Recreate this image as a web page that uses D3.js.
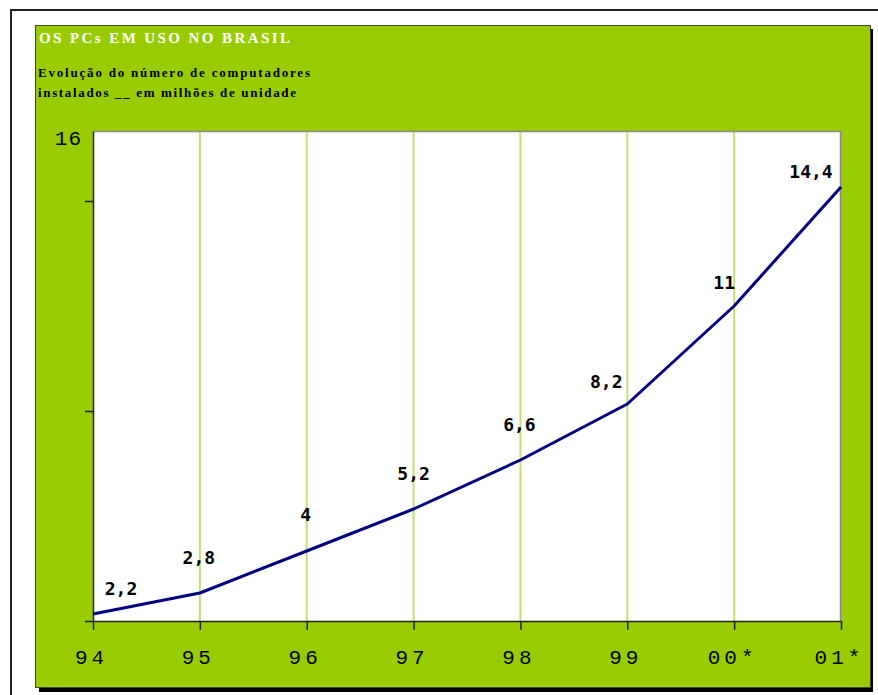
<!DOCTYPE html>
<html>
<head>
<meta charset="utf-8">
<script src="https://cdn.jsdelivr.net/npm/d3@7"></script>
<style>
  html, body { margin: 0; padding: 0; background: #ffffff; }
  svg { display: block; }
</style>
</head>
<body>
<svg id="chart" width="878" height="695"></svg>
<script>
// ---- data ----
const categories = ["94", "95", "96", "97", "98", "99", "00*", "01*"];
const values = [2.2, 2.8, 4, 5.2, 6.6, 8.2, 11, 14.4];
const valueLabels = ["2,2", "2,8", "4", "5,2", "6,6", "8,2", "11", "14,4"];
const yTickValues = [2, 8, 14];
const yTickLabels = ["16"];
const titleText = "OS PCs EM USO NO BRASIL";
const subtitleLines = ["Evolução do número de computadores", "instalados __ em milhões de unidade"];

// ---- layout (not data) ----
const labelOffsets = [[28, -25], [-1, -35], [-1, -36], [0, -35], [-1, -35], [-21, -22], [-10, -23], [-30, -15]];
const plot = { left: 93, right: 841, top: 131, bottom: 621 };
const yDomain = [2, 16];

const svg = d3.select("#chart");

// outer frame
svg.append("rect").attr("x", 11).attr("y", 10).attr("width", 900).attr("height", 720)
  .attr("fill", "#ffffff").attr("stroke", "#222").attr("stroke-width", 2);

// green panel with shadow
svg.append("rect").attr("x", 39).attr("y", 29).attr("width", 834).attr("height", 663).attr("fill", "#000");
svg.append("rect").attr("x", 35.5).attr("y", 25.5).attr("width", 835).attr("height", 662)
  .attr("fill", "#99cc00").attr("stroke", "#444").attr("stroke-width", 1);

// title
svg.append("text").attr("x", 39).attr("y", 43)
  .attr("font-family", "Liberation Serif").attr("font-weight", "bold").attr("font-size", 15)
  .attr("fill", "#ffffff").attr("textLength", 251).attr("lengthAdjust", "spacing")
  .text(titleText);

// subtitle
const subLens = [272, 258];
subtitleLines.forEach((t, i) => {
  svg.append("text").attr("x", 38).attr("y", 77 + i * 20)
    .attr("font-family", "Liberation Serif").attr("font-weight", "bold").attr("font-size", 13)
    .attr("fill", "#000").attr("textLength", subLens[i]).attr("lengthAdjust", "spacing")
    .text(t);
});

// scales
const x = d3.scalePoint().domain(categories).range([plot.left, plot.right]);
const y = d3.scaleLinear().domain(yDomain).range([plot.bottom, plot.top]);

// plot area
svg.append("rect").attr("x", plot.left).attr("y", plot.top)
  .attr("width", plot.right - plot.left).attr("height", plot.bottom - plot.top)
  .attr("fill", "#ffffff");

// vertical gridlines
svg.append("g").selectAll("line").data(categories.slice(1, -1)).join("line")
  .attr("x1", d => x(d)).attr("x2", d => x(d))
  .attr("y1", plot.top).attr("y2", plot.bottom)
  .attr("stroke", "#c4e070").attr("stroke-width", 2);

// plot top/right border
svg.append("path")
  .attr("d", `M${plot.left},${plot.top + 0.5}H${plot.right - 0.5}V${plot.bottom}`)
  .attr("fill", "none").attr("stroke", "#8a8a8a").attr("stroke-width", 1.5);

// x axis
const gx = svg.append("g").attr("transform", `translate(0,${plot.bottom})`)
  .call(d3.axisBottom(x).tickSize(9).tickPadding(19).tickSizeOuter(0));
gx.select(".domain").attr("stroke", "#222").attr("stroke-width", 1.5);
gx.selectAll(".tick line").attr("stroke", "#222").attr("stroke-width", 1.5);
gx.selectAll(".tick text")
  .attr("font-family", "Liberation Mono").attr("font-size", 21)
  .attr("letter-spacing", 4).attr("dx", -2).attr("fill", "#000");

// y axis
const gy = svg.append("g").attr("transform", `translate(${plot.left},0)`)
  .call(d3.axisLeft(y).tickValues(yTickValues).tickSize(8).tickFormat("").tickSizeOuter(0));
gy.select(".domain").attr("stroke", "#222").attr("stroke-width", 1.5);
gy.selectAll(".tick line").attr("stroke", "#222").attr("stroke-width", 1.5);

// y label "16"
svg.append("text").attr("x", 82).attr("y", y(16) + 14)
  .attr("text-anchor", "end")
  .attr("font-family", "Liberation Mono").attr("font-size", 21)
  .attr("letter-spacing", 1).attr("fill", "#000")
  .text(yTickLabels[0]);

// line
const line = d3.line().x((d, i) => x(categories[i])).y(d => y(d));
svg.append("path").datum(values)
  .attr("d", line).attr("fill", "none")
  .attr("stroke", "#000080").attr("stroke-width", 3).attr("stroke-linejoin", "round");

// data labels
svg.append("g").selectAll("text").data(values).join("text")
  .attr("x", (d, i) => x(categories[i]) + labelOffsets[i][0])
  .attr("y", (d, i) => y(d) + labelOffsets[i][1])
  .attr("dy", "0.36em")
  .attr("text-anchor", "middle")
  .attr("font-family", "DejaVu Sans Mono").attr("font-weight", "bold").attr("font-size", 18)
  .attr("fill", "#000")
  .text((d, i) => valueLabels[i]);
</script>
</body>
</html>
